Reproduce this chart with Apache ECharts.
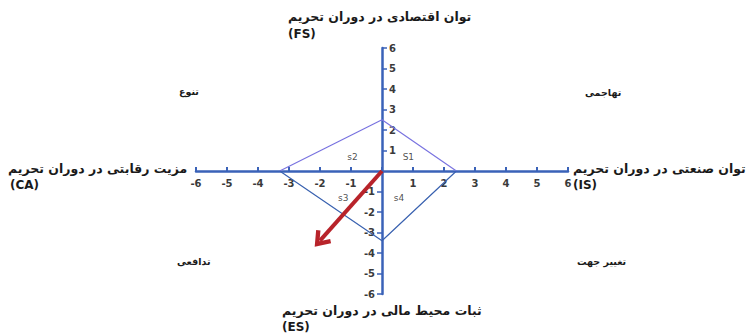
<!DOCTYPE html>
<html>
<head>
<meta charset="utf-8">
<script src="https://cdn.jsdelivr.net/npm/echarts@6/dist/echarts.min.js"></script>
<style>
  html, body { margin: 0; padding: 0; background: #fff; }
  #chart { width: 748px; height: 334px; }
</style>
</head>
<body>
<div id="chart"></div>
<script>
// axis range
const axisMin = -6
const axisMax = 6
const posTicks = [1, 2, 3, 4, 5, 6]
const negTicks = [-6, -5, -4, -3, -2, -1]

// diamond vertices (IS, FS, CA, ES)
const upperEdge = [[2.4, 0], [0, 2.5], [-3.3, 0]]
const lowerEdge = [[-3.3, 0], [0, -3.4], [2.4, 0]]

// direction vector
const arrowFrom = [0, 0]
const arrowTo = [-2.0, -3.4]

// sector labels
const sectorNames = ['S1', 's2', 's3', 's4']
const sectorPos = [[0.85, 0.7], [-0.95, 0.7], [-1.25, -1.3], [0.55, -1.3]]

const axisColor = '#3a62b8'
const labelColor = '#3a3a3a'
const font = '"DejaVu Sans", sans-serif'

const gridLeft = 196
const gridTop = 48
const gridW = 372
const gridH = 246

// open chevron arrow head, tip pointing up
const chevron = 'path://M10,0 L20,13 L16.5,15.5 L10,7 L3.5,15.5 L0,13 Z'

const chart = echarts.init(document.getElementById('chart'), null, { renderer: 'svg' })

const hideZero = v => (v === 0 ? '' : String(v))

const titleText = (text, left, top, size) => ({
  type: 'text',
  left: left,
  top: top,
  style: { text: text, font: 'bold ' + size + 'px ' + font, fill: '#1a1a1a' }
})

// vertical axis: positives to the right, negatives to the left
const yAxisPart = (position, ticks, showLine) => ({
  type: 'value',
  position: position,
  offset: -gridW / 2,
  min: axisMin,
  max: axisMax,
  interval: 1,
  splitLine: { show: false },
  axisLine: { show: showLine, onZero: false, lineStyle: { color: axisColor, width: 2.5 } },
  axisTick: { show: true, inside: true, length: 5, customValues: ticks, lineStyle: { color: axisColor, width: 1.5 } },
  axisLabel: {
    inside: true, customValues: ticks, color: labelColor, fontSize: 10, fontWeight: 'bold',
    fontFamily: font, margin: 7, formatter: hideZero
  }
})

const option = {
  backgroundColor: '#fff',
  animation: false,
  grid: {
    left: gridLeft, top: gridTop, width: gridW, height: gridH,
    outerBoundsMode: 'none'
  },
  xAxis: {
    type: 'value',
    position: 'bottom',
    offset: -gridH / 2,
    min: axisMin,
    max: axisMax,
    interval: 1,
    splitLine: { show: false },
    axisLine: { onZero: false, lineStyle: { color: axisColor, width: 2.5 } },
    axisTick: { show: true, inside: true, length: 4, lineStyle: { color: axisColor, width: 2 } },
    axisLabel: {
      color: labelColor, fontSize: 10, fontWeight: 'bold', fontFamily: font,
      margin: 7, formatter: hideZero
    }
  },
  yAxis: [
    yAxisPart('left', posTicks, true),
    yAxisPart('right', negTicks, false)
  ],
  series: [
    {
      type: 'line',
      data: upperEdge,
      symbol: 'none',
      lineStyle: { color: '#7a74e0', width: 1.2 },
      z: 3
    },
    {
      type: 'line',
      data: lowerEdge,
      symbol: 'none',
      lineStyle: { color: '#3a62b0', width: 1.2 },
      z: 3
    },
    {
      type: 'scatter',
      symbolSize: 0,
      data: sectorNames.map((n, i) => ({ name: n, value: sectorPos[i] })),
      label: {
        show: true,
        position: 'inside',
        formatter: p => p.name,
        color: '#222',
        fontSize: 9,
        fontFamily: font
      }
    },
    {
      type: 'line',
      data: [],
      markLine: {
        silent: true,
        symbol: ['none', chevron],
        symbolSize: [20, 16],
        label: { show: false },
        lineStyle: { color: '#b8232a', width: 4, type: 'solid' },
        data: [[{ coord: arrowFrom }, { coord: arrowTo }]]
      },
      z: 5
    }
  ],
  graphic: [
    titleText('توان اقتصادی در دوران تحریم', 288, 10, 12.5),
    titleText('(FS)', 288, 28, 12),
    titleText('مزیت رقابتی در دوران تحریم', 8, 162, 12.5),
    titleText('(CA)', 10, 179, 12),
    titleText('توان صنعتی در دوران تحریم', 573, 162, 12.5),
    titleText('(IS)', 573, 179, 12),
    titleText('ثبات محیط مالی در دوران تحریم', 282, 304, 12.5),
    titleText('(ES)', 282, 321, 12),
    titleText('تنوع', 179, 86, 9.5),
    titleText('تهاجمی', 585, 87, 9.5),
    titleText('تدافعی', 177, 256, 9.5),
    titleText('تغییر جهت', 577, 256, 9.5)
  ]
}

chart.setOption(option)
</script>
</body>
</html>
